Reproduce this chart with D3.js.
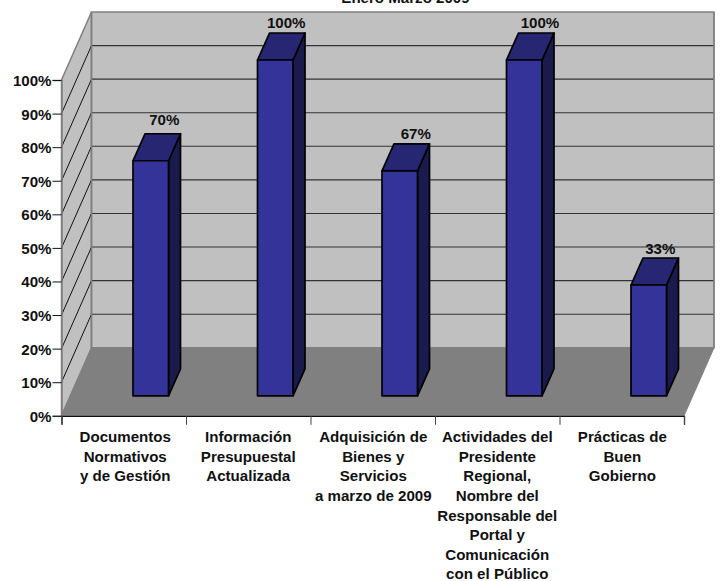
<!DOCTYPE html>
<html><head><meta charset="utf-8">
<style>html,body{margin:0;padding:0;background:#fff}svg{display:block}
text{font-family:"Liberation Sans",Arial,sans-serif;font-weight:bold;fill:#111}</style>
<script src="https://cdn.jsdelivr.net/npm/d3@7"></script>
</head><body><svg id="c" width="723" height="581"></svg>
<script>
const titleText = "Enero Marzo 2009";
const categories = ["Documentos Normativos y de Gestión","Información Presupuestal Actualizada","Adquisición de Bienes y Servicios a marzo de 2009","Actividades del Presidente Regional, Nombre del Responsable del Portal y Comunicación con el Público","Prácticas de Buen Gobierno"];
const categoryLines = [
  ["Documentos","Normativos","y de Gestión"],
  ["Información","Presupuestal","Actualizada"],
  ["Adquisición de","Bienes y","Servicios","a marzo de 2009"],
  ["Actividades del","Presidente","Regional,","Nombre del","Responsable del","Portal y","Comunicación","con el Público"],
  ["Prácticas de","Buen","Gobierno"]
];
const values = [70,100,67,100,33];
const yTicks = [0,10,20,30,40,50,60,70,80,90,100];

// layout constants
const W={x0:61.5,x1:684,y0:415.8,y1:80,dx:30,dy:-68};
const BAR={offset:71.5,width:35.5,bottomLift:20,dx:12,dy:-27};
const labelNudge=[[13.5,-8.3],[11,-5.4],[16,-5],[15.7,-5.4],[11.5,-4.4]];
const columnNudge=[1.5,0,0.5,0,0.6];
const FS=15.1, LH=19.6;

const svg=d3.select("#c");
const x=d3.scaleBand().domain(categories).range([W.x0,W.x1]);
const xEdge=d3.scaleLinear().domain([0,categories.length]).range([W.x0,W.x1]);
const y=d3.scaleLinear().domain([0,100]).range([W.y0,W.y1]);
const poly=p=>p.map(a=>a.join(",")).join(" ");

// side wall and back wall and floor
svg.append("polygon").attr("points",poly([[W.x0,y(0)],[W.x0,y(100)],[W.x0+W.dx,y(100)+W.dy],[W.x0+W.dx,y(0)+W.dy]]))
  .attr("fill","#c0c0c0").attr("stroke","#808080").attr("stroke-width",1.5);
svg.append("polygon").attr("points",poly([[W.x0+W.dx,y(0)+W.dy],[W.x0+W.dx,y(100)+W.dy],[W.x1+W.dx,y(100)+W.dy],[W.x1+W.dx,y(0)+W.dy]]))
  .attr("fill","#c0c0c0").attr("stroke","#808080").attr("stroke-width",1.5);
svg.append("polygon").attr("points",poly([[W.x0,y(0)],[W.x0+W.dx,y(0)+W.dy],[W.x1+W.dx,y(0)+W.dy],[W.x1,y(0)]]))
  .attr("fill","#808080").attr("stroke","#808080").attr("stroke-width",1);

// gridlines
const inner=yTicks.filter(t=>t>0&&t<100);
svg.append("g").selectAll("line").data(inner).join("line")
  .attr("x1",W.x0+W.dx).attr("x2",W.x1+W.dx)
  .attr("y1",d=>y(d)+W.dy).attr("y2",d=>y(d)+W.dy)
  .attr("stroke","#333").attr("stroke-width",1.1);
svg.append("g").selectAll("line").data(inner).join("line")
  .attr("x1",W.x0).attr("x2",W.x0+W.dx)
  .attr("y1",d=>y(d)).attr("y2",d=>y(d)+W.dy)
  .attr("stroke","#111").attr("stroke-width",1);
// re-stroke back-wall edges above the gridline ends
svg.append("line").attr("x1",W.x0+W.dx).attr("x2",W.x0+W.dx).attr("y1",y(100)+W.dy).attr("y2",y(0)+W.dy).attr("stroke","#808080").attr("stroke-width",1.5);
svg.append("line").attr("x1",W.x1+W.dx).attr("x2",W.x1+W.dx).attr("y1",y(100)+W.dy).attr("y2",y(0)+W.dy).attr("stroke","#808080").attr("stroke-width",1.5);

// axes
const gy=svg.append("g").attr("transform",`translate(${W.x0},0)`)
  .call(d3.axisLeft(y).tickValues(yTicks).tickSize(9).tickPadding(1).tickFormat(d=>d+"%"));
gy.select(".domain").attr("stroke","#808080").attr("stroke-width",1.5);
gy.selectAll("line").attr("stroke","#111").attr("stroke-width",1);
gy.selectAll("text").attr("font-size",FS).attr("dy","0.36em");
const gx=svg.append("g").attr("transform",`translate(0,${W.y0})`)
  .call(d3.axisBottom(xEdge).tickValues(d3.range(categories.length+1)).tickSize(9).tickFormat(""));
gx.select(".domain").attr("stroke","#111").attr("stroke-width",1.3);
gx.selectAll("line").attr("stroke","#444").attr("stroke-width",1);

// bars
const bars=svg.append("g").selectAll("g").data(categories).join("g");
bars.each(function(c,i){
  const g=d3.select(this), v=values[i];
  const l=x(c)+BAR.offset, r=l+BAR.width, b=y(0)-BAR.bottomLift, t=y(v)-BAR.bottomLift;
  const st=s=>s.attr("stroke","#000").attr("stroke-width",1.7).attr("stroke-linejoin","round");
  st(g.append("polygon").attr("points",poly([[r,b],[r,t],[r+BAR.dx,t+BAR.dy],[r+BAR.dx,b+BAR.dy]])).attr("fill","#1a1a4d"));
  st(g.append("polygon").attr("points",poly([[l,t],[l+BAR.dx,t+BAR.dy],[r+BAR.dx,t+BAR.dy],[r,t]])).attr("fill","#262673"));
  st(g.append("rect").attr("x",l).attr("y",t).attr("width",BAR.width).attr("height",b-t).attr("fill","#333399"));
  g.append("text").attr("text-anchor","middle").attr("font-size",FS)
    .attr("x",(l+r)/2+labelNudge[i][0]).attr("y",t+BAR.dy+labelNudge[i][1]).text(v+"%");
});

// category labels
svg.append("g").selectAll("g").data(categories).join("g").each(function(c,i){
  d3.select(this).selectAll("text").data(categoryLines[i]).join("text")
    .attr("text-anchor","middle").attr("font-size",FS)
    .attr("x",x(c)+x.bandwidth()/2+columnNudge[i]).attr("y",(d,j)=>442.2+j*LH).text(d=>d);
});

// title, clipped by the top edge as in the source
svg.append("text").attr("x",405.5).attr("y",3.2).attr("text-anchor","middle").attr("font-size",FS).text(titleText);
</script></body></html>
